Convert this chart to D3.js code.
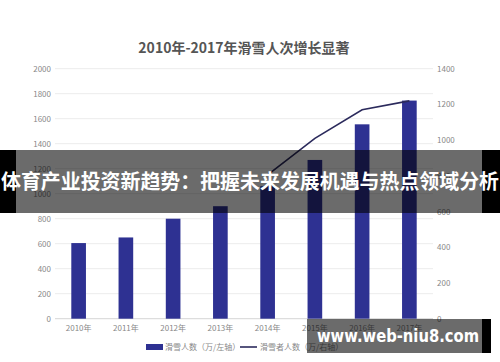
<!DOCTYPE html>
<meta charset="utf-8">
<body style="margin:0; background:#fff;">
<script src="https://d3js.org/d3.v7.min.js"></script>
<svg id="chart" width="500" height="362"></svg>
<script>
// data
var years = ["2010年","2011年","2012年","2013年","2014年","2015年","2016年","2017年"];
var visits = [605, 650, 800, 900, 1060, 1270, 1555, 1745];          // 滑雪人数 (left)
var skierYears = ["2014年","2015年","2016年","2017年"];
var skiers = [805, 1010, 1170, 1220];                                 // 滑雪者人数 (right)
var leftTicks = [0, 200, 400, 600, 800, 1000, 1200, 1400, 1600, 1800, 2000];
var rightTicks = [0, 200, 400, 600, 800, 1000, 1200, 1400];

var svg = d3.select("#chart");
var font = "'Noto Sans CJK SC', 'Noto Sans', sans-serif";
var barColor = "#2e3192", lineColor = "#2b2a5c";

var x = d3.scaleBand().domain(years).range([55, 433]).paddingInner(0.69).paddingOuter(0.345);
var yL = d3.scaleLinear().domain([0, 2000]).range([318.7, 68.7]);
var yR = d3.scaleLinear().domain([0, 1400]).range([318.7, 68.7]);

svg.append("text")
   .attr("x", 244).attr("y", 53)
   .attr("text-anchor", "middle")
   .style("font", "bold 14px " + font)
   .attr("fill", "#555")
   .text("2010年-2017年滑雪人次增长显著");

// grid + axes
svg.append("g").selectAll("line").data(leftTicks).join("line")
   .attr("x1", 55).attr("x2", 433)
   .attr("y1", d => yL(d)).attr("y2", d => yL(d))
   .attr("stroke", d => d == 0 ? "#d6d6d6" : "#ececec").attr("stroke-width", 1);

var gl = svg.append("g").attr("transform", "translate(51,0)")
   .call(d3.axisLeft(yL).tickValues(leftTicks).tickFormat(d3.format("d")).tickSize(0).tickPadding(0));
gl.select(".domain").remove();

var gr = svg.append("g").attr("transform", "translate(437,0)")
   .call(d3.axisRight(yR).tickValues(rightTicks).tickFormat(d3.format("d")).tickSize(0).tickPadding(0));
gr.select(".domain").remove();

var gx = svg.append("g").attr("transform", "translate(0,322)")
   .call(d3.axisBottom(x).tickSize(0).tickPadding(3));
gx.select(".domain").remove();

svg.selectAll(".tick text").style("font", "8px " + font).attr("fill", "#888");

// bars
svg.append("g").selectAll("rect").data(visits).join("rect")
   .attr("x", (d, i) => x(years[i]))
   .attr("width", x.bandwidth())
   .attr("y", d => yL(d))
   .attr("height", d => yL(0) - yL(d))
   .attr("fill", barColor);

// line
var line = d3.line()
   .x((d, i) => x(skierYears[i]) + x.bandwidth() / 2)
   .y(d => yR(d));
svg.append("path").datum(skiers)
   .attr("d", line)
   .attr("fill", "none")
   .attr("stroke", lineColor)
   .attr("stroke-width", 1.6);

// legend
var lg = svg.append("g").attr("transform", "translate(0,347)");
lg.append("rect").attr("x", 146).attr("y", -3).attr("width", 17).attr("height", 6).attr("fill", barColor);
lg.append("text").attr("x", 165).attr("y", 3).style("font", "8px " + font).attr("fill", "#888").text("滑雪人数（万/左轴）");
lg.append("line").attr("x1", 240).attr("x2", 257).attr("y1", 0).attr("y2", 0).attr("stroke", lineColor).attr("stroke-width", 1.6);
lg.append("text").attr("x", 260).attr("y", 3).style("font", "8px " + font).attr("fill", "#888").text("滑雪者人数（万/右轴）");

// headline banner over the chart
svg.append("rect").attr("x", 0).attr("y", 150).attr("width", 16).attr("height", 63).attr("fill", "#000");
svg.append("rect").attr("x", 482).attr("y", 150).attr("width", 18).attr("height", 63).attr("fill", "#000");
svg.append("rect").attr("x", 16).attr("y", 150).attr("width", 466).attr("height", 63).attr("fill", "#000").attr("opacity", 0.58);
svg.append("text")
   .attr("x", 250).attr("y", 189)
   .attr("text-anchor", "middle")
   .attr("textLength", 498).attr("lengthAdjust", "spacingAndGlyphs")
   .style("font", "bold 20px " + font)
   .attr("fill", "#fff")
   .text("体育产业投资新趋势：把握未来发展机遇与热点领域分析");

// site watermark
svg.append("rect").attr("x", 307).attr("y", 319).attr("width", 175).attr("height", 34).attr("fill", "#000").attr("opacity", 0.58);
svg.append("rect").attr("x", 482).attr("y", 319).attr("width", 9).attr("height", 34).attr("fill", "#000");
svg.append("text")
   .attr("x", 317).attr("y", 342)
   .attr("textLength", 162).attr("lengthAdjust", "spacingAndGlyphs")
   .style("font", "bold 17px 'DejaVu Sans', sans-serif")
   .attr("fill", "#fff")
   .text("www.web-niu8.com");
</script>
</body>
